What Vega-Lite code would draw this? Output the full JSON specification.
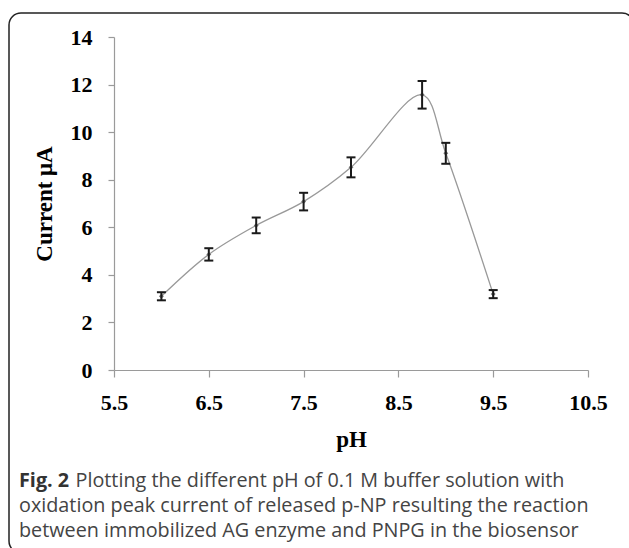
{
  "$schema": "https://vega.github.io/schema/vega-lite/v6.json",
  "width": 625,
  "height": 540,
  "autosize": {"type": "none"},
  "padding": {"left": 9, "top": 13, "right": 0, "bottom": 0},
  "background": "white",
  "config": {
    "view": {"stroke": "#222222", "strokeWidth": 1.5, "cornerRadius": 12, "fill": "white"},
    "axis": {
      "labelFont": "Liberation Serif",
      "labelFontWeight": "bold",
      "labelFontSize": 22,
      "labelColor": "#000000",
      "titleFont": "Liberation Serif",
      "titleFontWeight": "bold",
      "titleFontSize": 23,
      "titleColor": "#000000",
      "domainColor": "#9a9a9a",
      "tickColor": "#9a9a9a",
      "domainWidth": 1.2,
      "tickWidth": 1.2,
      "grid": false,
      "labelFlush": false
    }
  },
  "title": {
    "text": "Fig. 2",
    "subtitle": [
      "\u200b\u00a0\u00a0\u00a0\u00a0\u00a0\u00a0\u00a0\u00a0\u00a0\u00a0\u00a0Plotting the different pH of 0.1 M buffer solution with",
      "oxidation peak current of released p-NP resulting the reaction",
      "between immobilized AG enzyme and PNPG in the biosensor"
    ],
    "orient": "bottom",
    "anchor": "start",
    "frame": "group",
    "font": "Open Sans",
    "fontSize": 19.8,
    "fontWeight": "bold",
    "color": "#333333",
    "subtitleFont": "Open Sans",
    "subtitleFontSize": 19.8,
    "subtitleFontWeight": "normal",
    "subtitleColor": "#444444",
    "subtitleLineHeight": 25,
    "subtitlePadding": -19.8,
    "offset": -82,
    "dx": 10
  },
  "data": {
    "values": [
      {"pH": 6.0, "current": 3.10, "lo": 2.93, "hi": 3.27},
      {"pH": 6.5, "current": 4.86, "lo": 4.60, "hi": 5.12},
      {"pH": 7.0, "current": 6.08, "lo": 5.75, "hi": 6.41},
      {"pH": 7.5, "current": 7.08, "lo": 6.71, "hi": 7.45},
      {"pH": 8.0, "current": 8.52, "lo": 8.10, "hi": 8.94},
      {"pH": 8.75, "current": 11.57, "lo": 10.99, "hi": 12.15},
      {"pH": 9.0, "current": 9.11, "lo": 8.67, "hi": 9.55},
      {"pH": 9.5, "current": 3.19, "lo": 3.02, "hi": 3.36}
    ]
  },
  "encoding": {
    "x": {
      "field": "pH",
      "type": "quantitative",
      "scale": {"domain": [5.5, 10.5], "range": [105, 579], "nice": false, "zero": false},
      "axis": {
        "title": "pH",
        "values": [5.5, 6.5, 7.5, 8.5, 9.5, 10.5],
        "format": ".1f",
        "offset": -183,
        "tickSize": 7,
        "labelPadding": 15,
        "titlePadding": 15
      }
    }
  },
  "layer": [
    {
      "mark": {"type": "line", "interpolate": "catmull-rom", "color": "#999999", "strokeWidth": 1.3},
      "encoding": {
        "y": {
          "field": "current",
          "type": "quantitative",
          "scale": {"domain": [0, 14], "range": [357, 24], "nice": false},
          "axis": {
            "title": "Current μA",
            "values": [0, 2, 4, 6, 8, 10, 12, 14],
            "offset": -105,
            "tickSize": 6,
            "labelPadding": 16,
            "titlePadding": 14
          }
        }
      }
    },
    {
      "mark": {"type": "point", "shape": "diamond", "filled": true, "color": "#6f6f6f", "size": 24, "opacity": 1},
      "encoding": {"y": {"field": "current", "type": "quantitative"}}
    },
    {
      "mark": {"type": "rule", "color": "#1a1a1a", "strokeWidth": 2},
      "encoding": {"y": {"field": "lo", "type": "quantitative"}, "y2": {"field": "hi"}}
    },
    {
      "mark": {"type": "tick", "orient": "horizontal", "color": "#1a1a1a", "size": 9, "thickness": 2, "opacity": 1},
      "encoding": {"y": {"field": "lo", "type": "quantitative"}}
    },
    {
      "mark": {"type": "tick", "orient": "horizontal", "color": "#1a1a1a", "size": 9, "thickness": 2, "opacity": 1},
      "encoding": {"y": {"field": "hi", "type": "quantitative"}}
    }
  ]
}
